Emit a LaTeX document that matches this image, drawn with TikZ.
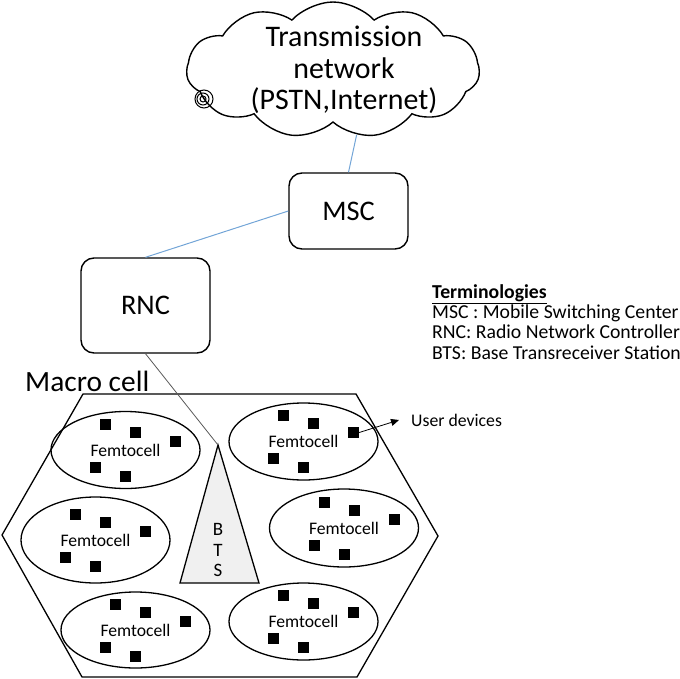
\documentclass[tikz,border=0pt]{standalone}
\usepackage{fontspec}
\setmainfont{Carlito}
\usetikzlibrary{shapes,arrows.meta,positioning,calc}

\definecolor{linkblue}{RGB}{115,165,215}
\definecolor{btsgray}{RGB}{240,240,240}

\begin{document}
\begin{tikzpicture}[x=1bp, y=-1bp,
  box/.style={draw, line width=1.4bp, rounded corners=13bp, minimum width=119bp, minimum height=76bp, font=\fontsize{28.5}{30}\selectfont},
  femto/.style={draw, ellipse, line width=1.3bp, minimum width=149bp, minimum height=77bp, inner sep=0pt, font=\fontsize{17.7}{20}\selectfont},
  dev/.style={rectangle, fill=black, minimum size=11bp, inner sep=0pt},
  link/.style={linkblue, line width=1bp}]
  \useasboundingbox (0,0) rectangle (680,679);

  % transmission network cloud
  \node[cloud, draw, line width=1.4bp, cloud puffs=11, cloud puff arc=95, cloud ignores aspect,
        minimum width=293bp, minimum height=136bp, inner sep=0pt] (net) at (333,70) {};
  \node[align=center, font=\fontsize{30}{31.5}\selectfont] (nettext) at (344,70) {Transmission\\network\\(PSTN,Internet)};
  \draw[line width=1bp] (204,99) circle[radius=9bp] (203,99) circle[radius=6bp] (203,99) circle[radius=3bp];

  % controllers
  \node[box] (msc) at (348.5,211) {MSC};
  \node[box, minimum width=129bp, minimum height=95bp] (rnc) at (145.5,305.5) {RNC};
  \draw[link] (net.-70) -- (msc.north);
  \draw[link] (msc.west) -- (rnc.north);

  % legend
  \node[anchor=north west, align=left, inner sep=0pt, font=\fontsize{19.8}{20.5}\selectfont] (terms) at (432,284)
    {\textbf{\underline{Terminologies}}\\MSC : Mobile Switching Center\\RNC: Radio Network Controller\\BTS: Base Transreceiver Station};

  % macro cell
  \draw[line width=1.3bp] (83,394) -- (356,394) -- (438,536) -- (357,677) -- (82,677) -- (2,535) -- cycle;
  \node[anchor=base west, inner sep=0pt, font=\fontsize{29.5}{30}\selectfont] (macro) at (25,391) {Macro cell};

  % base station
  \coordinate (btstop) at (218,445);
  \draw[line width=1.3bp, fill=btsgray] (btstop) -- (259,583) -- (180,583) -- cycle;
  \node[align=center, inner sep=0pt, font=\fontsize{19}{21}\selectfont] (bts) at (218,550) {B\\T\\S};
  \draw[gray!70!black, line width=0.8bp] (rnc.south) -- (btstop);

  % femtocells with user devices
  \foreach \n/\cx/\cy/\h in {f1/125.5/450/77, f2/303.5/441.5/77, f3/344/528/78,
                             f4/95.5/540/86, f5/135.5/630/76, f6/303.5/621.5/77} {
    \node[femto, minimum height=\h bp] (\n) at (\cx,\cy) {Femtocell};
    \foreach \k/\dx/\dy in {1/-20/-26, 2/10/-18, 3/50/-9, 4/-30/17, 5/0/26}
      \node[dev] (\n-\k) at ([shift={(\dx,\dy)}]\n.center) {};
  }

  \node[anchor=west, inner sep=0pt, font=\fontsize{17.8}{20}\selectfont] (users) at (411,420) {User devices};
  \draw[-{Triangle[length=8bp, width=7bp]}, line width=0.8bp] (f2-3.east) -- ([xshift=-12bp]users.west);
\end{tikzpicture}
\end{document}
